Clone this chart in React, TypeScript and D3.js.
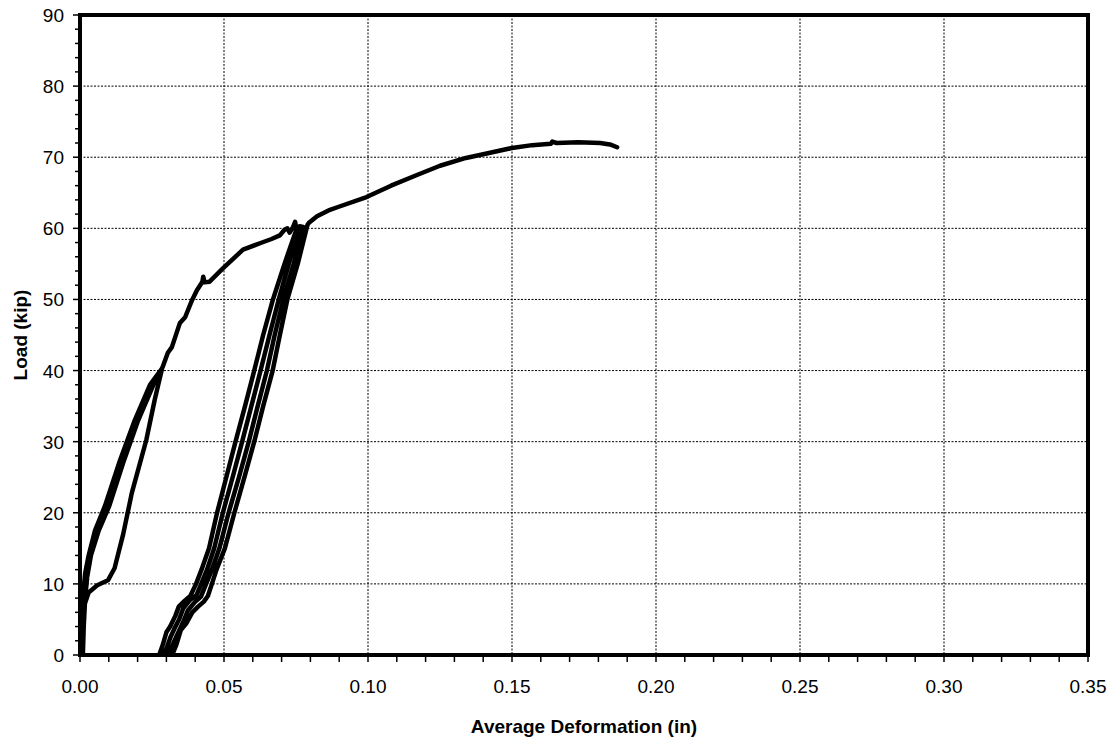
import React from "react";
import * as d3 from "d3";

// Deformation (in), Load (kip)
const envelopeA: [number, number][] = [
  [0.0005, 0], [0.0006, 3], [0.0009, 6], [0.0012, 9], [0.0018, 11.5], [0.003, 14],
  [0.0052, 17.5], [0.0087, 21], [0.0139, 27.4], [0.019, 33], [0.0243, 38], [0.0285, 40.3],
];
const unloadA: [number, number][] = [
  [0.0285, 40.3], [0.026, 36], [0.023, 30.2], [0.018, 22.8], [0.015, 17], [0.012, 12.2],
  [0.0097, 10.5], [0.006, 9.8], [0.003, 8.8], [0.0015, 7], [0.0012, 3], [0.001, 0],
];
const reloadA: [number, number][] = [
  [0.001, 0], [0.0013, 4], [0.0018, 8], [0.0025, 11], [0.0038, 14], [0.0065, 17.5],
  [0.0102, 21], [0.0153, 27.4], [0.0202, 33], [0.0255, 38], [0.0287, 40.5], [0.0305, 42.5],
  [0.0319, 43.3], [0.0347, 46.7], [0.0365, 47.5], [0.0389, 49.9], [0.0406, 51.3],
  [0.0425, 52.5], [0.0428, 53.2], [0.0432, 52.4], [0.045, 52.5], [0.0497, 54.4],
  [0.0566, 57], [0.0625, 57.9], [0.0665, 58.5], [0.0694, 59], [0.071, 59.8], [0.072, 60],
  [0.0728, 59.4], [0.074, 60.2], [0.0747, 60.9], [0.0752, 59.6],
];
const loop1Down: [number, number][] = [
  [0.0753, 60], [0.071, 55], [0.067, 50], [0.0636, 45], [0.0605, 40], [0.0573, 35],
  [0.054, 30], [0.0508, 25], [0.0476, 20], [0.0448, 15], [0.0422, 12], [0.0403, 10],
  [0.0383, 8.3], [0.0363, 7.6], [0.0343, 6.8], [0.0331, 5.5], [0.0313, 4], [0.03, 3.2],
  [0.0288, 1.5], [0.0275, 0],
];
const loop2Up: [number, number][] = [
  [0.0305, 0], [0.0315, 0.8], [0.0328, 2], [0.0345, 3.5], [0.036, 4.8], [0.0375, 6.3],
  [0.0398, 7.4], [0.042, 8.2], [0.0438, 10], [0.0458, 12], [0.0484, 15], [0.0516, 20],
  [0.0552, 25], [0.0586, 30], [0.0617, 35], [0.0649, 40], [0.0676, 45], [0.0706, 50],
  [0.0742, 55], [0.0775, 60.2],
];
const loop3Down: [number, number][] = [
  [0.0762, 60.3], [0.0725, 55], [0.069, 50], [0.0658, 45], [0.0627, 40], [0.0595, 35],
  [0.0563, 30], [0.053, 25], [0.0496, 20], [0.0466, 15], [0.0441, 12], [0.0421, 10],
  [0.0404, 8.4], [0.0381, 7.7], [0.0359, 6.6], [0.0344, 5], [0.0329, 3.8], [0.0314, 2.5],
  [0.0301, 1], [0.029, 0],
];
const loop4Up: [number, number][] = [
  [0.032, 0], [0.0335, 1.5], [0.035, 3.5], [0.037, 4.5], [0.039, 6], [0.041, 6.8],
  [0.043, 7.5], [0.0444, 8.3], [0.0458, 10], [0.0474, 12], [0.0503, 15], [0.0536, 20],
  [0.0571, 25], [0.0605, 30], [0.0636, 35], [0.0669, 40], [0.0694, 45], [0.072, 50],
  [0.0756, 55], [0.079, 60.5],
];
const finalBranch: [number, number][] = [
  [0.079, 60.5], [0.0795, 60.8], [0.0823, 61.7], [0.0868, 62.6], [0.0896, 63],
  [0.0995, 64.4], [0.108, 66], [0.117, 67.5], [0.125, 68.8], [0.134, 69.9], [0.142, 70.6],
  [0.15, 71.3], [0.157, 71.7], [0.1635, 71.9], [0.164, 72.2], [0.1655, 72], [0.173, 72.1],
  [0.1806, 72], [0.184, 71.8], [0.1865, 71.4],
];

const xTicks = [0, 0.05, 0.1, 0.15, 0.2, 0.25, 0.3, 0.35];
const yTicks = [0, 10, 20, 30, 40, 50, 60, 70, 80, 90];

export default function App() {
  const W = 1114, H = 743;
  const left = 80, right = 1088, top = 15, bottom = 655;
  const x = d3.scaleLinear().domain([0, 0.35]).range([left, right]);
  const y = d3.scaleLinear().domain([0, 90]).range([bottom, top]);
  const all = [
    ...envelopeA, ...unloadA, ...reloadA, ...loop1Down, ...loop2Up, ...loop3Down,
    ...loop4Up, ...finalBranch,
  ];
  const line = d3.line<[number, number]>().x((d) => x(d[0])).y((d) => y(d[1])).curve(d3.curveLinear);
  const xMinor = d3.range(0, 36).map((i) => i * 0.01);
  const yMinor = d3.range(0, 46).map((i) => i * 2);
  const font = "'Liberation Sans', Arial, sans-serif";

  return (
    <svg width={W} height={H} style={{ position: "absolute", left: 0, top: 0, background: "#fff" }}>
      <defs>
        <clipPath id="plot">
          <rect x={left} y={top} width={right - left} height={bottom - top} />
        </clipPath>
      </defs>
      <rect x={0} y={0} width={W} height={H} fill="#fff" />
      {xTicks.slice(1, -1).map((t) => (
        <line key={"gx" + t} x1={x(t)} x2={x(t)} y1={top} y2={bottom} stroke="#000" strokeWidth={1} strokeDasharray="2,1.5" />
      ))}
      {yTicks.slice(1, -1).map((t) => (
        <line key={"gy" + t} x1={left} x2={right} y1={y(t)} y2={y(t)} stroke="#000" strokeWidth={1} strokeDasharray="2,1.5" />
      ))}
      <path d={line(all) || ""} fill="none" stroke="#000" strokeWidth={4.5} strokeLinejoin="round" strokeLinecap="round" clipPath="url(#plot)" />
      {xMinor.map((t, i) => (
        <line key={"xm" + i} x1={x(t)} x2={x(t)} y1={bottom} y2={bottom + 7} stroke="#000" strokeWidth={1.5} />
      ))}
      {yMinor.map((t, i) => (
        <line key={"ym" + i} x1={left - (i % 5 === 0 ? 7 : 5)} x2={left} y1={y(t)} y2={y(t)} stroke="#000" strokeWidth={1.5} />
      ))}
      <rect x={left} y={top} width={right - left} height={bottom - top} fill="none" stroke="#000" strokeWidth={4} />
      {xTicks.map((t) => (
        <text key={"xl" + t} x={x(t)} y={693} textAnchor="middle" fontFamily={font} fontSize={19} fill="#000">
          {t.toFixed(2)}
        </text>
      ))}
      {yTicks.map((t) => (
        <text key={"yl" + t} x={64} y={y(t) + 7} textAnchor="end" fontFamily={font} fontSize={19} fill="#000">
          {t}
        </text>
      ))}
      <text x={(left + right) / 2} y={733} textAnchor="middle" fontFamily={font} fontSize={19} fontWeight="bold" fill="#000">
        Average Deformation (in)
      </text>
      <text transform={`translate(27,${(top + bottom) / 2}) rotate(-90)`} textAnchor="middle" fontFamily={font} fontSize={19} fontWeight="bold" fill="#000">
        Load (kip)
      </text>
    </svg>
  );
}
